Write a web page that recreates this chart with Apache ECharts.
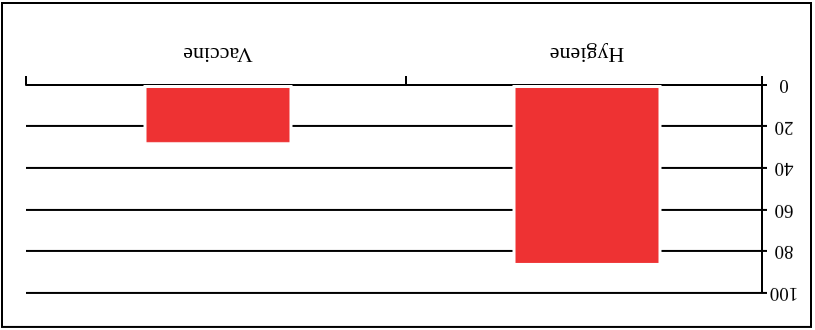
<!DOCTYPE html>
<html>
<head>
<meta charset="utf-8">
<script src="https://cdn.jsdelivr.net/npm/echarts@6/dist/echarts.min.js"></script>
<style>
html,body{margin:0;padding:0;background:#fff;}
#c{width:815px;height:330px;transform:rotate(180deg);}
</style>
</head>
<body>
<div id="c"></div>
<script>
const categories = ['Hygiene', 'Vaccine'];
const values = [87, 29];
const yMin = 0;
const yMax = 100;
const yInterval = 20;

const FONT = '"Liberation Serif", "DejaVu Serif", serif';
const BLACK = '#000';
// x position of the boundary tick between the two category bands (fraction of axis)
const BOUNDARY = 0.484;

const chart = echarts.init(document.getElementById('c'), null, {renderer: 'canvas'});
chart.setOption({
  animation: false,
  backgroundColor: '#fff',
  graphic: [{
    type: 'rect', silent: true, z: 100,
    shape: {x: 4, y: 3, width: 809, height: 324},
    style: {fill: null, stroke: BLACK, lineWidth: 2}
  }],
  grid: [
    {left: 53, right: 26, top: 37, bottom: 85},
    {left: 43.5, right: 33.5, top: 37, bottom: 85}
  ],
  xAxis: [
    {
      gridIndex: 0, type: 'value', min: 0, max: 1,
      axisLine: {show: true, onZero: false, lineStyle: {color: BLACK, width: 2}},
      axisTick: {show: true, length: 9, customValues: [0, BOUNDARY, 1], lineStyle: {color: BLACK, width: 2}},
      axisLabel: {show: false},
      splitLine: {show: false}
    },
    {
      gridIndex: 1, type: 'category', data: categories,
      axisLine: {show: false},
      axisTick: {show: false},
      axisLabel: {fontFamily: FONT, fontSize: 22, color: BLACK, margin: 20},
      splitLine: {show: false}
    }
  ],
  yAxis: [
    {
      gridIndex: 0, type: 'value', min: yMin, max: yMax, interval: yInterval,
      axisLine: {show: true, lineStyle: {color: BLACK, width: 2}},
      axisTick: {show: true, length: 5, lineStyle: {color: BLACK, width: 2}},
      axisLabel: {fontFamily: FONT, fontSize: 19, color: BLACK, align: 'center', margin: 22},
      splitLine: {show: true, lineStyle: {color: BLACK, width: 2}}
    },
    {
      gridIndex: 1, type: 'value', min: yMin, max: yMax, interval: yInterval, show: false,
      splitLine: {show: false}
    }
  ],
  series: [{
    type: 'bar', xAxisIndex: 1, yAxisIndex: 1,
    data: values,
    barWidth: 149,
    z: 5,
    itemStyle: {color: '#ee3233', borderColor: '#fff', borderWidth: 3}
  }]
});
</script>
</body>
</html>
